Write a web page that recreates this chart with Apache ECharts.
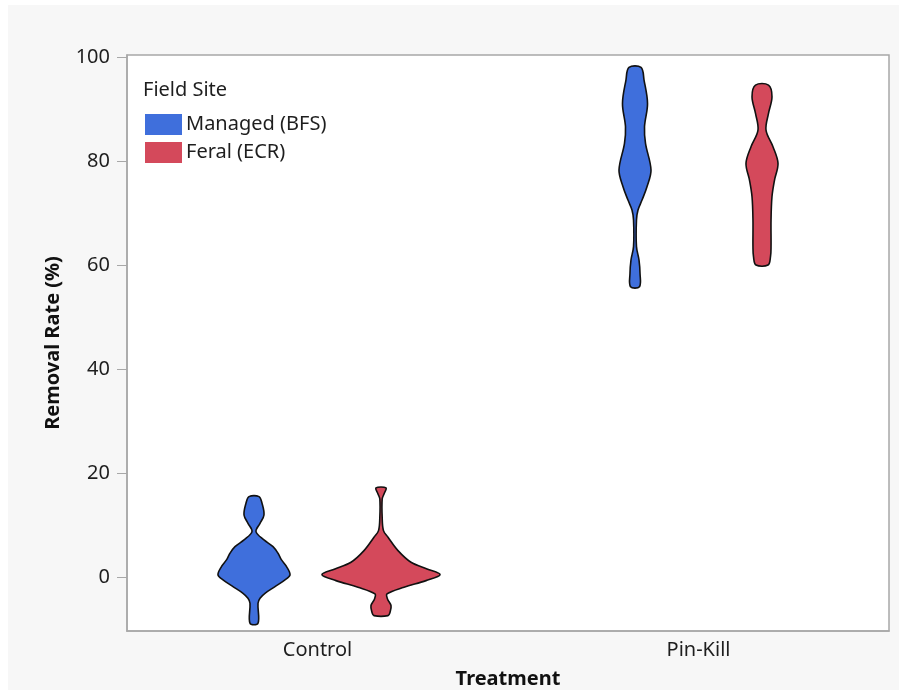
<!DOCTYPE html>
<html><head><meta charset="utf-8">
<script src="https://cdn.jsdelivr.net/npm/echarts@6/dist/echarts.min.js"></script>
<style>
html,body{margin:0;padding:0;background:#fff;}
#bg{position:absolute;left:8px;top:5px;width:891px;height:685px;background:#f7f7f7;}
#chart{position:absolute;left:0;top:0;width:899px;height:694px;}
</style></head><body>
<div id="bg"></div><div id="chart"></div>
<script>
// ---- data ----
const categories = ['Control', 'Pin-Kill'];
const sites = ['Managed (BFS)', 'Feral (ECR)'];
const yTicks = [0, 20, 40, 60, 80, 100];
const yRange = [-10.4, 100.4];
// violin profiles: [removal rate %, relative density], top to bottom
const controlManaged = [
  [15.45, 0.085], [14.17, 0.136], [11.92, 0.169], [10.32, 0.102], [8.72, 0.034],
  [7.12, 0.169], [5.83, 0.322], [4.55, 0.407], [3.27, 0.466], [1.99, 0.551],
  [0.38, 0.610], [-0.58, 0.525], [-1.86, 0.356], [-3.14, 0.186], [-4.10, 0.102],
  [-5.06, 0.068], [-8.91, 0.068]
];
const controlFeral = [
  [17.12, 0.085], [15.96, 0.051], [15.0, 0.02], [11.47, 0.02], [8.91, 0.042],
  [7.63, 0.119], [5.06, 0.288], [2.82, 0.508], [1.54, 0.78], [0.45, 1.0],
  [-0.71, 0.763], [-1.99, 0.39], [-3.27, 0.102], [-4.23, 0.11], [-5.51, 0.17],
  [-6.79, 0.153], [-7.44, 0.119]
];
const pinKillManaged = [
  [98.01, 0.102], [95.58, 0.153], [91.09, 0.212], [86.6, 0.161], [83.4, 0.178],
  [78.27, 0.271], [75.06, 0.203], [72.5, 0.119], [70.58, 0.051], [68.65, 0.025],
  [63.53, 0.025], [60.96, 0.068], [58.4, 0.085], [55.83, 0.076]
];
const pinKillFeral = [
  [94.62, 0.11], [92.37, 0.169], [89.17, 0.11], [85.96, 0.068], [82.76, 0.186],
  [79.55, 0.271], [76.35, 0.212], [73.14, 0.169], [68.65, 0.153], [63.53, 0.153],
  [61.6, 0.144], [60.0, 0.102]
];
const managedProfiles = [controlManaged, pinKillManaged];
const feralProfiles = [controlFeral, pinKillFeral];

// ---- style ----
const COLORS = ['#3f6fdc', '#d4495b'];
const VIOLIN_SCALE = 0.155;   // half-width (fraction of category band) at density 1
const OFFSETS = [-1 / 6, 1 / 6];
const FONT = '"Noto Sans", "Open Sans", sans-serif';

function makeRender(profiles, offsetFrac) {
  return function (params, api) {
    const prof = profiles[params.dataIndex];
    const cat = api.value(0);
    const bw = api.size([1, 0])[0];
    const cx = api.coord([cat, 0])[0] + offsetFrac * bw;
    const s = VIOLIN_SCALE * bw;
    const right = prof.map(p => [cx + p[1] * s, api.coord([cat, p[0]])[1]]);
    const left = prof.slice().reverse().map(p => [cx - p[1] * s, api.coord([cat, p[0]])[1]]);
    return {
      type: 'polygon',
      shape: { points: right.concat(left), smooth: 0.35 },
      style: { fill: api.visual('color'), stroke: '#111', lineWidth: 1.6 }
    };
  };
}

const chart = echarts.init(document.getElementById('chart'));
chart.setOption({
  backgroundColor: 'transparent',
  animation: false,
  textStyle: { fontFamily: FONT },
  title: {
    text: 'Field Site', left: 143, top: 80, padding: 0,
    textStyle: { fontFamily: FONT, fontSize: 20, fontWeight: 'normal', color: '#1e1e1e' }
  },
  legend: {
    data: sites, orient: 'vertical', left: 145, top: 114, padding: 0,
    itemWidth: 37, itemHeight: 21, itemGap: 7, icon: 'rect',
    itemStyle: { borderWidth: 0 },
    textStyle: { fontFamily: FONT, fontSize: 20, color: '#1e1e1e', padding: [3, 0, 0, -1] }
  },
  grid: {
    left: 127, right: 10, top: 55, bottom: 63, show: true,
    backgroundColor: '#ffffff', borderColor: '#a8a8a8', borderWidth: 1.5
  },
  xAxis: {
    type: 'category', data: categories,
    name: 'Treatment', nameLocation: 'middle', nameGap: 38,
    nameTextStyle: { fontFamily: FONT, fontSize: 20, fontWeight: 'bold', color: '#111' },
    axisLine: { onZero: false, lineStyle: { color: '#a8a8a8', width: 1.5 } },
    axisTick: { show: false },
    axisLabel: { fontFamily: FONT, fontSize: 20, color: '#1e1e1e', margin: 9 },
    splitLine: { show: false }
  },
  yAxis: {
    type: 'value', min: yRange[0], max: yRange[1],
    name: 'Removal Rate (%)', nameLocation: 'middle', nameGap: 64,
    nameTextStyle: { fontFamily: FONT, fontSize: 20, fontWeight: 'bold', color: '#111' },
    axisLine: { show: true, onZero: false, lineStyle: { color: '#a8a8a8', width: 1.5 } },
    axisTick: { show: true, length: 10, customValues: yTicks, lineStyle: { color: '#a8a8a8' } },
    axisLabel: { customValues: yTicks, fontFamily: FONT, fontSize: 20, color: '#1e1e1e', margin: 17 },
    splitLine: { show: false }
  },
  series: [
    {
      name: sites[0], type: 'custom', itemStyle: { color: COLORS[0] },
      encode: { x: 0, y: 1 },
      data: categories.map((c, i) => [i, managedProfiles[i][0][0]]),
      renderItem: makeRender(managedProfiles, OFFSETS[0])
    },
    {
      name: sites[1], type: 'custom', itemStyle: { color: COLORS[1] },
      encode: { x: 0, y: 1 },
      data: categories.map((c, i) => [i, feralProfiles[i][0][0]]),
      renderItem: makeRender(feralProfiles, OFFSETS[1])
    }
  ]
});
</script>
</body></html>
